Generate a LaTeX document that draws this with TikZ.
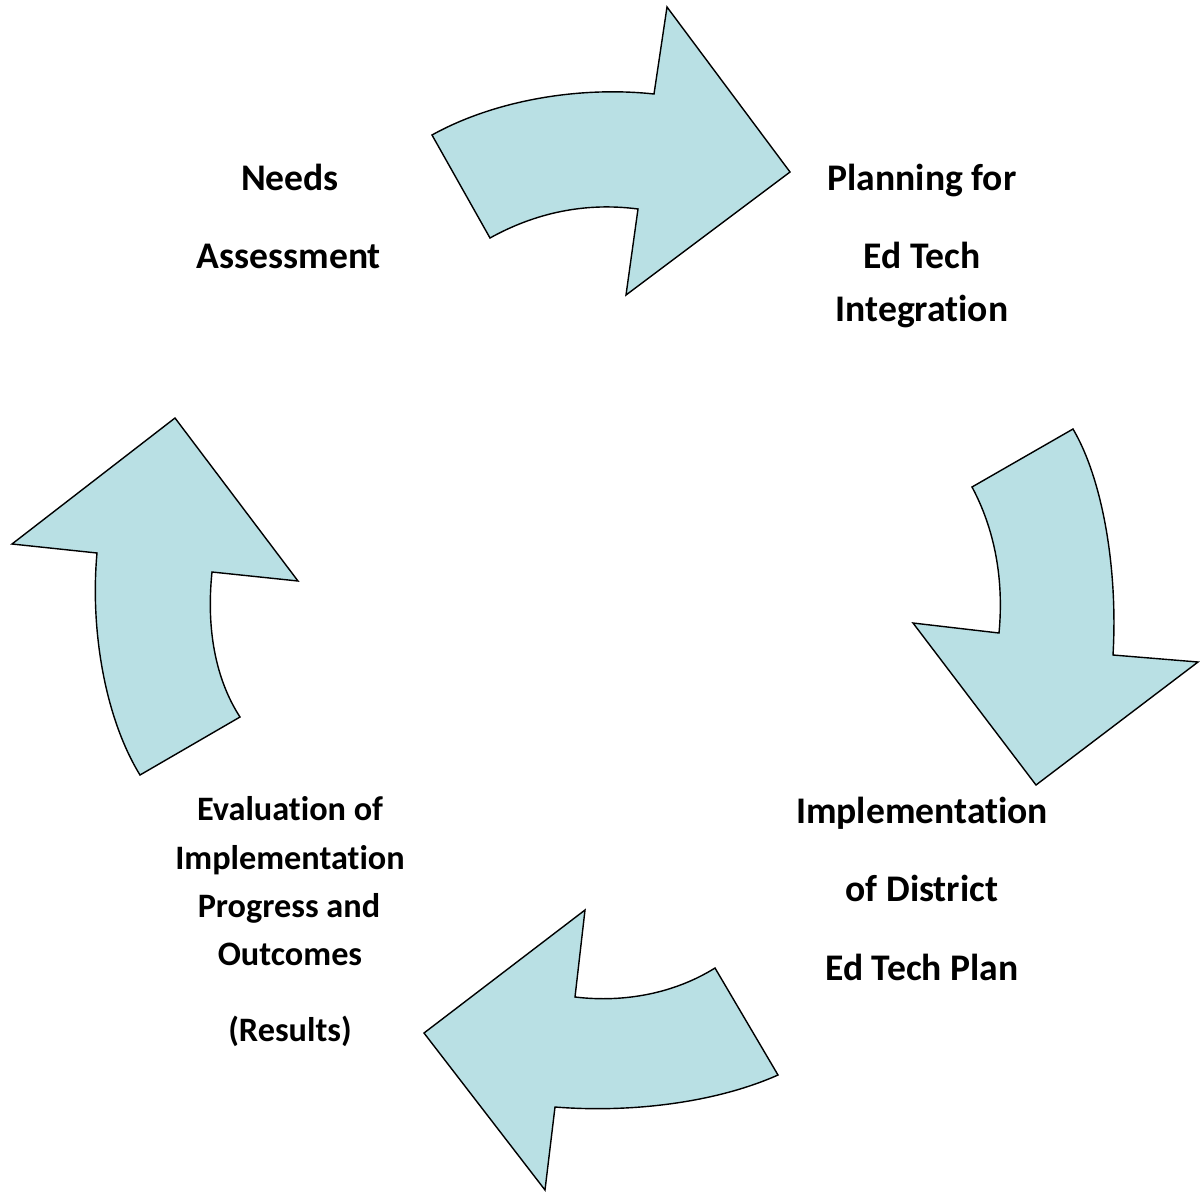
\documentclass[tikz,border=0pt]{standalone}
\usepackage{fontspec}
\setmainfont[Ligatures=NoCommon]{Carlito}
\usetikzlibrary{positioning}
\definecolor{cyclefill}{RGB}{185,224,228}

\begin{document}
\begin{tikzpicture}[x=0.02cm,y=-0.02cm]

\tikzset{
	cyclearrow/.style={
		fill=cyclefill,
		draw=black,
		line width=0.8pt,
		line join=miter
	}
}

\tikzset{
	steptext/.style={
		font=\fontsize{21.4}{25}\selectfont\bfseries,
		inner sep=0pt,
		anchor=base
	},
	smalltext/.style={
		steptext,
		font=\fontsize{19.5}{23}\selectfont\bfseries
	}
}

\useasboundingbox (0,0) rectangle (1200,1197);

% top arrow
\draw[cyclearrow] (432,135) .. controls (495,100) and (580,86) .. (654,94)
	-- (667,7) -- (790,172) -- (626,295) -- (638,209)
	.. controls (585,202) and (535,213) .. (490,238) -- cycle;

% right arrow
\draw[cyclearrow] (1073,429) .. controls (1103,480) and (1118,570) .. (1113,655)
	-- (1198,662) -- (1036,785) -- (913,623) -- (999,633)
	.. controls (1004,580) and (995,530) .. (972,487) -- cycle;

% bottom arrow
\draw[cyclearrow] (778,1075) .. controls (715,1103) and (630,1113) .. (555,1107)
	-- (545,1190) -- (424,1033) -- (585,910) -- (575,997)
	.. controls (625,1003) and (675,993) .. (715,968) -- cycle;

% left arrow
\draw[cyclearrow] (140,775) .. controls (105,718) and (90,630) .. (97,553)
	-- (12,544) -- (175,418) -- (298,581) -- (212,572)
	.. controls (206,630) and (216,680) .. (240,717) -- cycle;

% needs assessment
\node[steptext] (needs1) at (290,190) {Needs};
\node[steptext] (needs2) at (289,268) {Assessment};

% planning
\node[steptext] (plan1) at (922,190) {Planning for};
\node[steptext] (plan2) at (922,268) {Ed Tech};
\node[steptext] (plan3) at (922,321) {Integration};

% implementation
\node[steptext] (impl1) at (922,823) {Implementation};
\node[steptext] (impl2) at (922,901) {of District};
\node[steptext] (impl3) at (922,980) {Ed Tech Plan};

% evaluation
\node[smalltext] (eval1) at (290,820) {Evaluation of};
\node[smalltext] (eval2) at (290,869) {Implementation};
\node[smalltext] (eval3) at (289,917) {Progress and};
\node[smalltext] (eval4) at (290,965) {Outcomes};
\node[smalltext] (eval5) at (290,1041) {(Results)};

\end{tikzpicture}
\end{document}
